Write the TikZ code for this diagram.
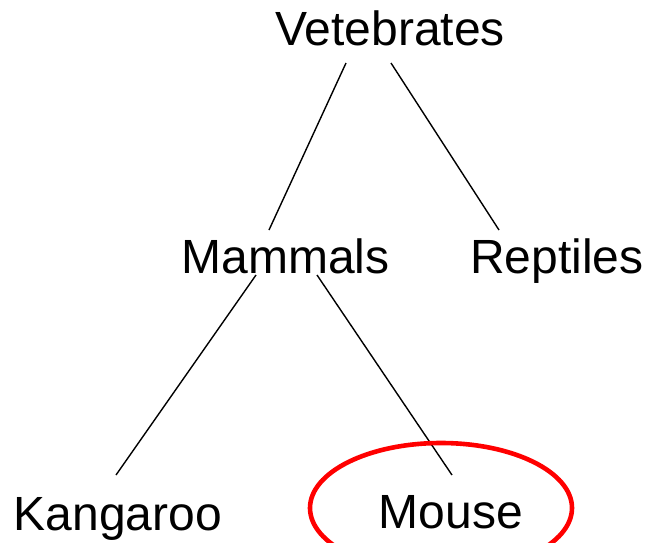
\documentclass[tikz,border=0pt]{standalone}
\usepackage{fontspec}
\setmainfont{Liberation Sans}
\usetikzlibrary{calc, positioning}
\tikzset{
    taxonomy/.style={x=1pt, y=-1pt, line width=1.4pt},
    taxon/.style={anchor=base, inner sep=0pt, font=\fontsize{48}{57}\selectfont},
    edge/.style={draw, black},
    % red ring round the chosen leaf
    highlight/.style={draw=red, line width=4.6pt},
}

\begin{document}
\begin{tikzpicture}[taxonomy]
    \useasboundingbox (0,0) rectangle (649,542);

    \node[taxon] at (390,45)    (vert)  {Vetebrates};
    \node[taxon] at (285.5,273) (mam)   {Mammals};
    \node[taxon] at (557,273)   (rep)   {Reptiles};
    \node[taxon] at (118,530)   (kang)  {Kangaroo};
    \node[taxon] at (451,528)   (mouse) {Mouse};

    \draw[edge] ($(vert.base)+(-44,18)$) -- ($(mam.base)+(-16.5,-43)$);
    \draw[edge] ($(vert.base)+(1,18)$)   -- ($(rep.base)+(-58,-43)$);
    \draw[edge] ($(mam.base)+(-29.5,2)$) -- ($(kang.base)+(-2,-55)$);
    \draw[edge] ($(mam.base)+(31.5,2)$)  -- ($(mouse.base)+(1,-53)$);

    \draw[highlight] ($(mouse.base)+(-10,-20)$) ellipse [x radius=131, y radius=65];
\end{tikzpicture}
\end{document}
